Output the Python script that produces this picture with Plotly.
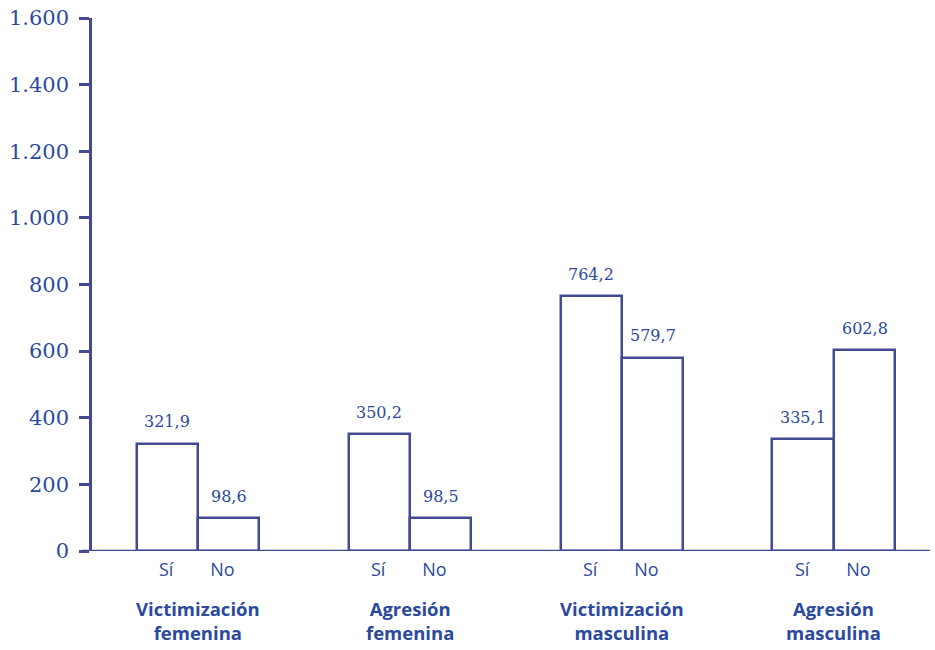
import plotly.graph_objects as go

# Data
groups = ["Victimización<br>femenina", "Agresión<br>femenina",
          "Victimización<br>masculina", "Agresión<br>masculina"]
answers = ["Sí", "No"]
si_values = [321.9, 350.2, 764.2, 335.1]
no_values = [98.6, 98.5, 579.7, 602.8]
y_ticks = [0, 200, 400, 600, 800, 1000, 1200, 1400, 1600]

LINE = "#424a92"
TEXT = "#2b4a9e"
BAR_W = 0.29

group_pos = list(range(len(groups)))
si_x = [g - BAR_W / 2 for g in group_pos]
no_x = [g + BAR_W / 2 for g in group_pos]

fig = go.Figure()
for xs, vals, name in [(si_x, si_values, "Sí"), (no_x, no_values, "No")]:
    fig.add_trace(go.Bar(
        x=xs, y=vals, width=BAR_W, name=name,
        marker=dict(color="white", line=dict(color=LINE, width=2.5)),
        showlegend=False,
    ))

# value labels above bars
for xs, vals in [(si_x, si_values), (no_x, no_values)]:
    for x, v in zip(xs, vals):
        fig.add_annotation(
            x=x, y=v, text=f"{v:.1f}".replace(".", ","),
            showarrow=False, yanchor="middle", yshift=22,
            font=dict(family="DejaVu Serif", size=16, color=TEXT),
        )

# group captions under the axis
for g, label in zip(group_pos, groups):
    fig.add_annotation(
        x=g, xref="x", y=0, yref="paper", yanchor="top", yshift=-44,
        text=f"<b>{label}</b>", showarrow=False, borderpad=0,
        font=dict(family="Open Sans", size=18.5, color=TEXT),
    )

tick_x = []
tick_t = []
for a, b in zip(si_x, no_x):
    tick_x += [a - 0.005, b - 0.03]
    tick_t += answers

fig.update_layout(
    width=935, height=650,
    margin=dict(l=92, r=5, t=18, b=99),
    paper_bgcolor="white", plot_bgcolor="white",
    separators=",.",
    bargap=0,
    barmode="overlay",
    xaxis=dict(
        range=[-0.5, 3.453], showgrid=False, zeroline=False,
        showline=False, tickmode="array", tickvals=tick_x, ticktext=tick_t,
        ticks="", ticklabelstandoff=6,
        tickfont=dict(family="Open Sans", size=18, color=TEXT),
    ),
    yaxis=dict(
        range=[0, 1600], tickvals=y_ticks, tickformat=",d",
        showgrid=False, zeroline=False,
        showline=True, linecolor=LINE, linewidth=2.5,
        ticks="outside", ticklen=10, tickwidth=2.5, tickcolor=LINE,
        ticklabelstandoff=6,
        tickfont=dict(family="DejaVu Serif", size=21, color=TEXT),
    ),
)

# baseline along y = 0, extending left to the tick length
fig.add_shape(type="line", xref="paper", yref="y", x0=-0.012, x1=1, y0=0, y1=0,
              line=dict(color=LINE, width=2.5), layer="above")

fig.write_html("out.html")
